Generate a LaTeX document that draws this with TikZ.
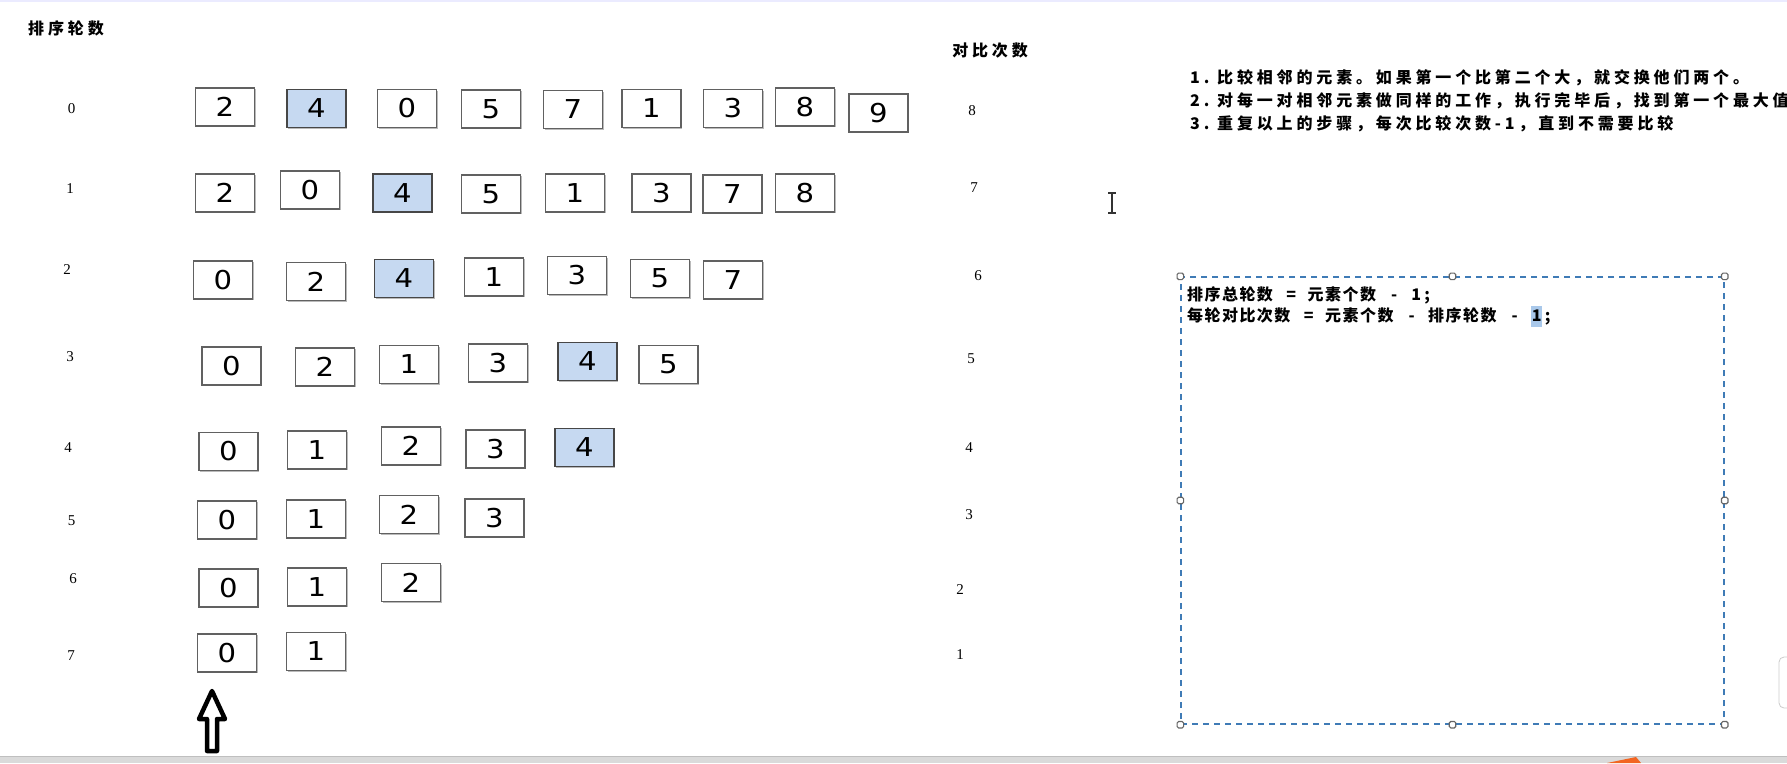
\documentclass[tikz,border=0pt]{standalone}
\usepackage{fontspec}
\usetikzlibrary{shadows}
\setmainfont{Liberation Serif}
\newfontfamily\cjkA[LetterSpace=24]{Noto Sans CJK SC}
\newfontfamily\cjkB[LetterSpace=9]{Noto Sans CJK SC}
\newfontfamily\dgt[FakeStretch=1.12]{DejaVu Sans}
\definecolor{cellblue}{HTML}{C6D9F1}
\definecolor{dashblue}{HTML}{3F7BB6}
\definecolor{hlblue}{HTML}{A9C8EA}
\definecolor{barGray}{HTML}{DADADA}
\definecolor{orng}{HTML}{F26522}
\newcommand{\hw}[1]{\makebox[11pt]{#1}}
\newcommand{\cj}[2]{\makebox[#1pt][l]{#2}}
\tikzset{
  cell/.style={draw=black!62, line width=1.1pt, fill=white, minimum width=59pt,
    minimum height=38pt, inner sep=0pt, font=\dgt\fontsize{26}{26}\selectfont,
    drop shadow={shadow xshift=1.2pt, shadow yshift=-1.2pt, opacity=0.45, fill=black!60}},
  hcell/.style={cell, fill=cellblue, draw=black!72},
  rlab/.style={font=\fontsize{15}{15}\selectfont, inner sep=0pt},
  head/.style={font=\cjkA\bfseries\fontsize{16}{16}\selectfont, inner sep=0pt},
  listtxt/.style={font=\cjkA\bfseries\fontsize{16}{23}\selectfont, inner sep=0pt, anchor=west, align=left},
  boxtxt/.style={font=\cjkB\bfseries\fontsize{16}{21}\selectfont, inner sep=0pt, anchor=north west, align=left},
  dashbox/.style={draw=dashblue, line width=1.4pt, dash pattern=on 6pt off 5pt,
    minimum width=543pt, minimum height=447pt, inner sep=0pt},
  handle/.style={draw=black!60, fill=white, line width=1.1pt, minimum size=6.5pt,
    inner sep=0pt, rounded corners=1.5pt}
}
\begin{document}
\begin{tikzpicture}[x=1pt,y=-1pt]
\useasboundingbox (0,0) rectangle (1787,763);
\fill[white] (0,0) rectangle (1787,763);
\fill[blue!8] (0,0) rectangle (1787,2);

% headers
\node[head] (hrounds) at (66,28.5) {排序轮数};
\node[head] (hcmp) at (990,50) {对比次数};

% round labels
\node[rlab] (l0) at (71.5,109) {0};
\node[rlab] (l1) at (70,189) {1};
\node[rlab] (l2) at (67,270) {2};
\node[rlab] (l3) at (70,357) {3};
\node[rlab] (l4) at (68,448) {4};
\node[rlab] (l5) at (71.5,521) {5};
\node[rlab] (l6) at (73,579) {6};
\node[rlab] (l7) at (71,656) {7};

% comparison counts
\node[rlab] (k0) at (972,111) {8};
\node[rlab] (k1) at (974,188) {7};
\node[rlab] (k2) at (978,276) {6};
\node[rlab] (k3) at (971,359) {5};
\node[rlab] (k4) at (969,448) {4};
\node[rlab] (k5) at (969,515) {3};
\node[rlab] (k6) at (960,590) {2};
\node[rlab] (k7) at (960,655) {1};

% row 0
\node[cell]  (a1) at (225,107) {2};
\node[hcell] (a2) at (316.5,108.5) {4};
\node[cell]  (a3) at (407,108.5) {0};
\node[cell]  (a4) at (491,109) {5};
\node[cell]  (a5) at (573,109.5) {7};
\node[cell]  (a6) at (651.5,108.5) {1};
\node[cell]  (a7) at (733,108.5) {3};
\node[cell]  (a8) at (805,107) {8};
\node[cell]  (a9) at (878.5,113) {9};
% row 1
\node[cell]  (b1) at (225,193) {2};
\node[cell]  (b2) at (310,190) {0};
\node[hcell] (b3) at (402.5,193) {4};
\node[cell]  (b4) at (491,194) {5};
\node[cell]  (b5) at (575,193) {1};
\node[cell]  (b6) at (661.5,193) {3};
\node[cell]  (b7) at (732.5,194) {7};
\node[cell]  (b8) at (805,193) {8};
% row 2
\node[cell]  (c1) at (223,280) {0};
\node[cell]  (c2) at (316,281.5) {2};
\node[hcell] (c3) at (404,278.5) {4};
\node[cell]  (c4) at (494,277) {1};
\node[cell]  (c5) at (577,275.5) {3};
\node[cell]  (c6) at (660,278.5) {5};
\node[cell]  (c7) at (733,280) {7};
% row 3
\node[cell]  (d1) at (231.5,366) {0};
\node[cell]  (d2) at (325,367) {2};
\node[cell]  (d3) at (409,364.5) {1};
\node[cell]  (d4) at (498,363) {3};
\node[hcell] (d5) at (587.5,361.5) {4};
\node[cell]  (d6) at (668.5,364.5) {5};
% row 4
\node[cell]  (e1) at (228.5,451.5) {0};
\node[cell]  (e2) at (317,450) {1};
\node[cell]  (e3) at (411,446) {2};
\node[cell]  (e4) at (495.5,449) {3};
\node[hcell] (e5) at (584.5,447.5) {4};
% row 5
\node[cell]  (f1) at (227,520) {0};
\node[cell]  (f2) at (316,519) {1};
\node[cell]  (f3) at (409,514.5) {2};
\node[cell]  (f4) at (494.5,518) {3};
% row 6
\node[cell]  (g1) at (228.5,588) {0};
\node[cell]  (g2) at (317,587) {1};
\node[cell]  (g3) at (411,582.5) {2};
% row 7
\node[cell]  (h1) at (227,653) {0};
\node[cell]  (h2) at (316,651.5) {1};

% hollow up arrow
\draw[line width=4.5pt, line join=round, fill=white]
  (212,691) -- (225,719) -- (217,719) -- (217,751) -- (207,751) -- (207,719) -- (199,719) -- cycle;

% rules list
\node[listtxt] (rules) at (1190,101) {\makebox[27pt][l]{1.}比较相邻的元素。如果第一个比第二个大，就交换他们两个。\\
\makebox[27pt][l]{2.}对每一对相邻元素做同样的工作，执行完毕后，找到第一个最大值\\
\makebox[27pt][l]{3.}重复以上的步骤，每次比较次数-1，直到不需要比较};

% text cursor
\draw[line width=1.6pt, black!80] (1112,193) -- (1112,213);
\draw[line width=1.2pt, black!80] (1108,193) -- (1116,193) (1108,213) -- (1116,213);

% dashed formula box
\node[dashbox] (fbox) at (1452.5,500.5) {};
\node[boxtxt] (ftxt) at (1187,286) {\cj{87.5}{排序总轮数}\hw{}\hw{=}\hw{}\cj{70}{元素个数}\hw{}\hw{-}\hw{}\hw{1}\hw{;}\\
\cj{105}{每轮对比次数}\hw{}\hw{=}\hw{}\cj{70}{元素个数}\hw{}\hw{-}\hw{}\cj{70}{排序轮数}\hw{}\hw{-}\hw{}{\setlength\fboxsep{0pt}\colorbox{hlblue}{\hw{\strut 1}}}\hw{;}};
\foreach \n/\p in {1/north west,2/north,3/north east,4/west,5/east,6/south west,7/south,8/south east}
  \node[handle] (hd\n) at (fbox.\p) {};

% screen artifacts
\fill[barGray] (0,756) rectangle (1787,763);
\draw[black!25, line width=0.8pt] (0,756) -- (1787,756);
\fill[orng] (1607,763) -- (1636,757) -- (1641,763) -- cycle;
\draw[black!20, fill=white, line width=0.8pt, rounded corners=5pt] (1779,657) rectangle (1800,708);
\end{tikzpicture}
\end{document}
